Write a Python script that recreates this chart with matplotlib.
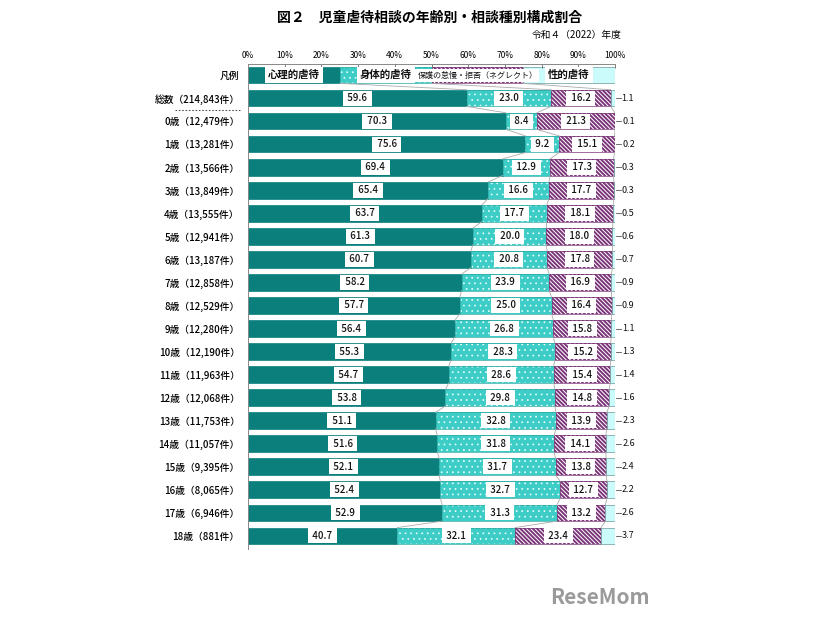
import numpy as np
import matplotlib.pyplot as plt

plt.rcParams['font.family'] = ['Noto Sans CJK JP', 'DejaVu Sans']

# data
rows = ['総数（214,843件）', '0歳（12,479件）', '1歳（13,281件）', '2歳（13,566件）',
        '3歳（13,849件）', '4歳（13,555件）', '5歳（12,941件）', '6歳（13,187件）',
        '7歳（12,858件）', '8歳（12,529件）', '9歳（12,280件）', '10歳（12,190件）',
        '11歳（11,963件）', '12歳（12,068件）', '13歳（11,753件）', '14歳（11,057件）',
        '15歳（9,395件）', '16歳（8,065件）', '17歳（6,946件）', '18歳（881件）']
psych = [59.6, 70.3, 75.6, 69.4, 65.4, 63.7, 61.3, 60.7, 58.2, 57.7, 56.4, 55.3,
         54.7, 53.8, 51.1, 51.6, 52.1, 52.4, 52.9, 40.7]
physical = [23.0, 8.4, 9.2, 12.9, 16.6, 17.7, 20.0, 20.8, 23.9, 25.0, 26.8, 28.3,
            28.6, 29.8, 32.8, 31.8, 31.7, 32.7, 31.3, 32.1]
neglect = [16.2, 21.3, 15.1, 17.3, 17.7, 18.1, 18.0, 17.8, 16.9, 16.4, 15.8, 15.2,
           15.4, 14.8, 13.9, 14.1, 13.8, 12.7, 13.2, 23.4]
sexual = [1.1, 0.1, 0.2, 0.3, 0.3, 0.5, 0.6, 0.7, 0.9, 0.9, 1.1, 1.3,
          1.4, 1.6, 2.3, 2.6, 2.4, 2.2, 2.6, 3.7]
legend_names = ['心理的虐待', '身体的虐待', '保護の怠慢・拒否（ネグレクト）', '性的虐待']
legend_share = [25, 25, 25, 25]

c_psych = '#0b7f7b'
c_phys = '#3dcdc6'
c_negl = '#7a3478'
c_sex = '#ccfbfb'

fig = plt.figure(figsize=(8.26, 6.2), dpi=100)
ax = fig.add_axes([248/826, 1 - 549/620, 367/826, 485/620])

h = 0.72
y = np.arange(1, len(rows) + 1)
series = [psych, physical, neglect, sexual]


def hatch_lw(bars, w):
    for p in bars:
        if hasattr(p, 'set_hatch_linewidth'):
            p.set_hatch_linewidth(w)


def draw_row(yy, vals):
    left = 0
    for k, v in enumerate(vals):
        if k == 0:
            ax.barh(yy, v, left=left, height=h, color=c_psych, edgecolor=c_psych, lw=0.5)
        elif k == 1:
            with plt.rc_context({'hatch.linewidth': 0.5}):
                b = ax.barh(yy, v, left=left, height=h, color=c_phys, edgecolor='#e8ffff',
                            lw=0, hatch='...')
            hatch_lw(b, 0.5)
            ax.barh(yy, v, left=left, height=h, fill=False, edgecolor='#2aa8a2', lw=0.5)
        elif k == 2:
            with plt.rc_context({'hatch.linewidth': 1.4}):
                b = ax.barh(yy, v, left=left, height=h, color='white', edgecolor=c_negl,
                            lw=0, hatch='\\' * 8)
            hatch_lw(b, 1.4)
            ax.barh(yy, v, left=left, height=h, fill=False, edgecolor=c_negl, lw=0.5)
        else:
            ax.barh(yy, v, left=left, height=h, color=c_sex, edgecolor='#6a9a9a', lw=0.5)
        left += v


box = dict(boxstyle='square,pad=0.25', fc='white', ec='none')

# legend row
draw_row(0, legend_share)
lx = np.cumsum([0] + legend_share[:-1]) + np.array(legend_share) / 2
for x, name in zip(lx, legend_names):
    if len(name) < 8:
        ax.text(x, 0, name, ha='center', va='center', fontsize=7.5, fontweight='bold',
                bbox=dict(boxstyle='square,pad=0.3', fc='white', ec='none'), color='#111111')
    else:
        ax.text(x, 0, name, ha='center', va='center', fontsize=5.8,
                bbox=dict(boxstyle='square,pad=0.25', fc='white', ec='none'), color='#111111')

# data rows
data = np.array(series).T
for i, yy in enumerate(y):
    vals = data[i]
    draw_row(yy, vals)
    cum = np.cumsum(vals)
    starts = cum - vals
    for k in range(3):
        ax.text(starts[k] + vals[k] / 2, yy, f' {vals[k]:.1f} ', ha='center', va='center',
                fontsize=7, fontweight='medium', bbox=box, color='#111111')
    ax.plot([cum[3] + 0.3, cum[3] + 1.6], [yy, yy], color='#555555', lw=0.6, clip_on=False)
    ax.text(cum[3] + 1.9, yy, f'{vals[3]:.1f}', ha='left', va='center', fontsize=6.5,
            color='#111111', clip_on=False)

# connector lines between rows
prev = np.cumsum(legend_share)[:3]
prev_y = 0
for i, yy in enumerate(y):
    cur = np.cumsum(data[i])[:3]
    for a, b in zip(prev, cur):
        ax.plot([a, b], [prev_y + h / 2, yy - h / 2], color='#aaaaaa', lw=0.6)
    prev = cur
    prev_y = yy

ax.set_xlim(0, 100)
ax.set_ylim(20.57, -0.48)
ax.xaxis.tick_top()
ax.set_xticks(np.arange(0, 101, 10))
ax.set_xticklabels([f'{t}%' for t in range(0, 101, 10)], fontsize=6)
ax.tick_params(axis='x', direction='in', length=3, width=0.6, color='#666666', pad=3)
ax.set_yticks(list(range(0, len(rows) + 1)))
ax.set_yticklabels(['凡例'] + rows, fontsize=7, fontweight='medium')
ax.tick_params(axis='y', length=0, pad=6)
for s in ['right', 'bottom']:
    ax.spines[s].set_visible(False)
for s in ['left', 'top']:
    ax.spines[s].set_color('#888888')
    ax.spines[s].set_linewidth(0.7)

# dotted separator below the total row
fig.add_artist(plt.Line2D([175/826, 240/826], [1 - 110/620, 1 - 110/620],
                          color='#555555', lw=0.8, ls=(0, (1.5, 1.5))))

fig.text(430/826, 1 - 18/620, '図２　児童虐待相談の年齢別・相談種別構成割合',
         ha='center', va='center', fontsize=10, fontweight='bold')
fig.text(622/826, 1 - 35/620, '令和４（2022）年度', ha='right', va='center', fontsize=7)
fig.text(650/826, 1 - 598/620, 'ReseMom', ha='right', va='center', fontsize=15,
         fontweight='bold', color='#9a9a9a')

fig.savefig('out.png', dpi=100)
